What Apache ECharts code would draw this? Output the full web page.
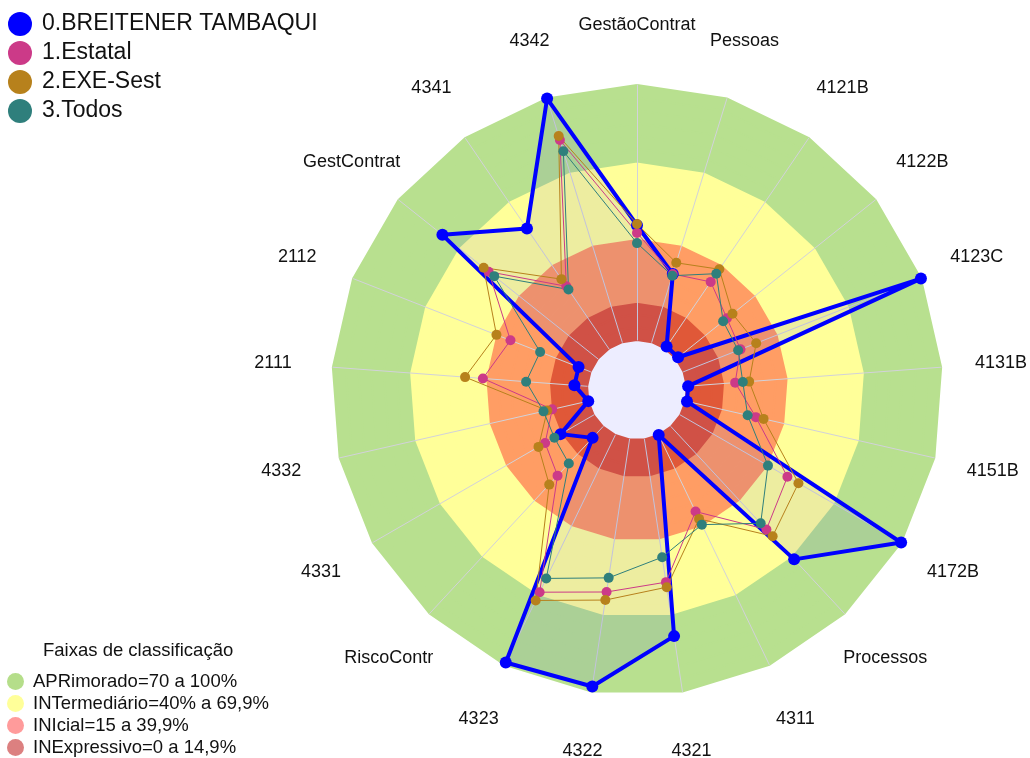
<!DOCTYPE html>
<html>
<head>
<meta charset="utf-8">
<script src="https://cdn.jsdelivr.net/npm/echarts@6/dist/echarts.min.js"></script>
<style>
  html, body { margin: 0; padding: 0; background: #fff; }
  #chart { width: 1030px; height: 758px; }
</style>
</head>
<body>
<div id="chart"></div>
<script>
// eixos, no sentido horário a partir do topo
const categories = ['GestãoContrat', 'Pessoas', '4121B', '4122B', '4123C', '4131B', '4151B', '4172B',
  'Processos', '4311', '4321', '4322', '4323', 'RiscoContr', '4331', '4332', '2111', '2112',
  'GestContrat', '4341', '4342'];

const seriesNames = ['0.BREITENER TAMBAQUI', '1.Estatal', '2.EXE-Sest', '3.Todos'];
const breitener = [45, 28, 1, 1, 100, 0.5, 0.5, 100, 71, 0, 78, 98, 99, 6, 15, 0, 5, 5, 78, 57, 100];
const estatal = [42, 28, 31.7, 25.5, 24, 19, 28.2, 48.5, 55, 33.3, 56.6, 60.5, 68.4, 26.2, 22, 14.5, 41, 33.7, 54.8, 29.6, 83];
const exeSest = [45.5, 32.6, 37.7, 28.3, 30.6, 24.5, 31.3, 53.5, 58.6, 36.5, 58.6, 63.7, 72, 31, 25, 16.5, 48, 39.6, 57.3, 33, 84.6];
const todos = [38, 27.3, 35.6, 23.6, 23, 22, 24.9, 39.7, 51.7, 39, 46.7, 54.9, 62.4, 19.7, 17.8, 18, 24, 21.2, 52, 28.1, 78.4];

// faixas de classificação
const bandNames = ['APRimorado=70 a 100%', 'INTermediário=40% a 69,9%', 'INIcial=15 a 39,9%', 'INExpressivo=0 a 14,9%'];
const bandFrom = [70, 40, 15, 0];

const bandFill = ['#b8e08f', '#ffff99', '#ff9d64', '#e05838'];
const bandLegendColor = ['#b5de8a', '#ffff99', '#ff9b9b', '#dc8080'];
const seriesColors = ['#0000ff', '#cc3a88', '#b7811c', '#2f7f7c'];

// echarts radar runs counter-clockwise, so reverse the order after the first axis
const order = [0];
for (let i = categories.length - 1; i > 0; i--) order.push(i);
const pick = arr => order.map(i => arr[i]);

// one ring per 5%, coloured by band
const step = 5;
const splitColors = [];
for (let v = 0; v < 100; v += step) {
  const mid = v + step / 2;
  const k = bandFrom.findIndex(f => mid >= f);
  splitColors.push(bandFill[k]);
}
// same colours on the ring edges to hide seams between rings
const lineColors = splitColors.concat([bandFill[0]]);

const font = 'Liberation Sans, Arial, sans-serif';

const values = [breitener, estatal, exeSest, todos];
let series = values.map((vals, i) => ({
  name: seriesNames[i],
  type: 'radar',
  symbol: 'circle',
  symbolSize: i === 0 ? 12 : 10,
  itemStyle: { color: seriesColors[i] },
  lineStyle: { color: seriesColors[i], width: i === 0 ? 4 : 1 },
  areaStyle: i === 0 ? { color: 'rgba(0,0,255,0.1)' } : undefined,
  data: [{ value: pick(vals), name: seriesNames[i] }]
}));
bandNames.forEach((b, i) => {
  series.push({
    name: b,
    type: 'radar',
    itemStyle: { color: bandLegendColor[i] },
    data: []
  });
});

const chart = echarts.init(document.getElementById('chart'));
chart.setOption({
  animation: false,
  textStyle: { fontFamily: font },
  title: {
    text: 'Faixas de classificação',
    left: 38,
    top: 636,
    textStyle: { fontFamily: font, fontSize: 18.5, fontWeight: 'normal', color: '#111' }
  },
  legend: [
    {
      data: seriesNames,
      orient: 'vertical',
      left: 3,
      top: 7,
      icon: 'circle',
      itemWidth: 24,
      itemHeight: 24,
      itemGap: 5,
      selectedMode: false,
      textStyle: { fontFamily: font, fontSize: 23, color: '#111', padding: [0, 0, 0, 5] }
    },
    {
      data: bandNames,
      orient: 'vertical',
      left: 2,
      top: 667,
      height: 120,
      icon: 'circle',
      itemWidth: 17,
      itemHeight: 17,
      itemGap: 3,
      selectedMode: false,
      textStyle: { fontFamily: font, fontSize: 18.5, color: '#111', padding: [0, 0, 0, 4] }
    }
  ],
  radar: {
    center: [637, 390],
    radius: [50, 305],
    startAngle: 90,
    shape: 'polygon',
    splitNumber: 100 / step,
    indicator: pick(categories).map(n => ({ name: n, min: 0, max: 100 })),
    nameGap: 60,
    axisName: {
      color: '#111',
      fontFamily: font,
      fontSize: 18,
      align: 'center',
      verticalAlign: 'middle'
    },
    axisLine: { lineStyle: { color: '#d2d2da', width: 1 } },
    splitLine: { show: true, lineStyle: { color: lineColors, width: 2 } },
    splitArea: { show: true, areaStyle: { color: splitColors } }
  },
  series: series
});
</script>
</body>
</html>
